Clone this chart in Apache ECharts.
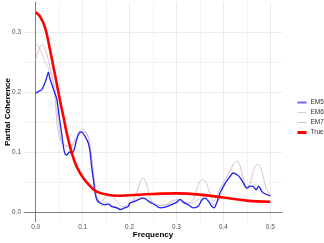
<!DOCTYPE html>
<html><head><meta charset="utf-8">
<script src="https://cdn.jsdelivr.net/npm/echarts@6/dist/echarts.min.js"></script>
<style>html,body{margin:0;padding:0;background:#fff}#c{width:324px;height:243px}</style>
</head><body><div id="c"></div>
<script>
const xTicks = [0, 0.1, 0.2, 0.3, 0.4, 0.5];
const xMinor = [0.05, 0.15, 0.25, 0.35, 0.45];
const yTicks = [0, 0.1, 0.2, 0.3];
const yMinor = [0.05, 0.15, 0.25];
const seriesNames = ['EM5', 'EM6', 'EM7', 'True'];

const em5Freq = [0,0.006,0.013,0.018,0.023,0.027,0.030,0.038,0.045,0.050,0.055,0.059,0.062,0.066,0.072,0.077,0.082,0.087,0.093,0.098,0.105,0.112,0.116,0.119,0.123,0.126,0.130,0.137,0.148,0.155,0.162,0.173,0.180,0.190,0.197,0.201,0.212,0.222,0.229,0.237,0.244,0.254,0.265,0.276,0.286,0.300,0.308,0.315,0.325,0.336,0.347,0.354,0.361,0.368,0.375,0.380,0.387,0.393,0.404,0.414,0.421,0.429,0.436,0.443,0.450,0.457,0.464,0.470,0.475,0.482,0.489,0.500];
const em5Val = [0.198,0.201,0.204,0.212,0.223,0.233,0.223,0.204,0.188,0.159,0.132,0.109,0.098,0.095,0.100,0.098,0.104,0.120,0.132,0.133,0.126,0.115,0.099,0.076,0.054,0.034,0.021,0.015,0.012,0.013,0.009,0.007,0.004,0.007,0.009,0.015,0.018,0.022,0.023,0.020,0.016,0.012,0.007,0.008,0.011,0.016,0.021,0.016,0.012,0.007,0.010,0.020,0.023,0.018,0.010,0.007,0.018,0.032,0.048,0.059,0.065,0.062,0.057,0.048,0.040,0.043,0.042,0.037,0.043,0.034,0.030,0.027];

const em6Freq = [0,0.01,0.02,0.03,0.04,0.045,0.05,0.055,0.06,0.07,0.08,0.09,0.1,0.105,0.112,0.119,0.125,0.13,0.14,0.15,0.16,0.17,0.18,0.19,0.2,0.21,0.22,0.23,0.24,0.25,0.26,0.27,0.28,0.29,0.3,0.31,0.32,0.33,0.34,0.35,0.36,0.37,0.38,0.39,0.4,0.41,0.42,0.43,0.44,0.45,0.46,0.47,0.48,0.49,0.5];
const em6Val = [0.282,0.270,0.250,0.235,0.210,0.175,0.140,0.118,0.112,0.108,0.110,0.128,0.138,0.136,0.125,0.090,0.050,0.025,0.015,0.016,0.012,0.008,0.006,0.010,0.015,0.020,0.025,0.024,0.020,0.015,0.012,0.010,0.013,0.018,0.020,0.018,0.015,0.014,0.018,0.022,0.026,0.020,0.012,0.020,0.040,0.055,0.065,0.062,0.050,0.038,0.043,0.045,0.040,0.032,0.027];

const em7Freq = [0,0.009,0.013,0.018,0.023,0.030,0.036,0.040,0.043,0.046,0.052,0.059,0.066,0.073,0.080,0.087,0.094,0.100,0.107,0.114,0.119,0.124,0.129,0.133,0.141,0.151,0.158,0.169,0.180,0.194,0.208,0.215,0.222,0.229,0.237,0.244,0.251,0.261,0.272,0.283,0.293,0.304,0.315,0.325,0.336,0.343,0.350,0.357,0.365,0.372,0.379,0.386,0.393,0.404,0.414,0.421,0.429,0.436,0.443,0.450,0.457,0.464,0.471,0.478,0.485,0.492,0.500];
const em7Val = [0.254,0.276,0.279,0.276,0.265,0.243,0.222,0.200,0.170,0.143,0.120,0.112,0.110,0.107,0.115,0.126,0.136,0.134,0.132,0.120,0.093,0.059,0.032,0.015,0.018,0.026,0.029,0.021,0.011,0.008,0.021,0.032,0.048,0.057,0.045,0.023,0.015,0.011,0.012,0.013,0.018,0.021,0.018,0.015,0.021,0.037,0.051,0.054,0.045,0.029,0.018,0.026,0.040,0.054,0.068,0.079,0.085,0.076,0.054,0.040,0.048,0.068,0.079,0.077,0.059,0.037,0.029];

const trueFreq = [0,0.009,0.02,0.03,0.041,0.052,0.059,0.066,0.077,0.087,0.101,0.116,0.130,0.151,0.173,0.200,0.250,0.300,0.350,0.400,0.450,0.500];
const trueVal = [0.333,0.326,0.307,0.272,0.229,0.185,0.159,0.132,0.098,0.076,0.057,0.043,0.034,0.029,0.027,0.028,0.030,0.031,0.029,0.024,0.019,0.017];

const zip = (a, b) => a.map((v, i) => [v, b[i]]);
const FONT = '"Liberation Sans", Arial, Helvetica, sans-serif';
const gridCol = '#ebebeb';
const minorCol = '#f3f3f3';
const legendLine = {
  EM5: {color: '#6b6bff', width: 2},
  EM6: {color: '#d3d3d3', width: 1},
  EM7: {color: '#d8bfd8', width: 1},
  True: {color: '#ff0000', width: 3}
};

const chart = echarts.init(document.getElementById('c'), null, {renderer: 'canvas'});
chart.setOption({
  animation: false,
  backgroundColor: '#ffffff',
  textStyle: {fontFamily: FONT},
  grid: {left: 24, right: 42, top: 2, bottom: 21, containLabel: false, outerBoundsMode: 'none'},
  legend: {
    data: seriesNames.map(n => ({name: n, lineStyle: legendLine[n]})),
    orient: 'vertical',
    left: 291, top: 94,
    itemWidth: 9, itemHeight: 7, itemGap: 3,
    itemStyle: {opacity: 0},
    textStyle: {fontSize: 6.5, color: '#333', fontFamily: FONT, padding: [0, 0, 0, -1]}
  },
  xAxis: [{
    type: 'value', min: -0.025, max: 0.525,
    name: 'Frequency', nameLocation: 'middle', nameGap: 9, nameMoveOverlap: false,
    nameTextStyle: {fontSize: 8, fontWeight: 'bold', color: '#000', fontFamily: FONT},
    axisLine: {show: true, onZero: true, lineStyle: {color: '#808080', width: 1}},
    axisTick: {show: false, customValues: xTicks},
    axisLabel: {customValues: xTicks, fontSize: 6.4, color: '#4d4d4d', margin: 2,
      formatter: v => v.toFixed(1)},
    splitLine: {show: true, lineStyle: {color: gridCol, width: 1}}
  }, {
    type: 'value', min: -0.025, max: 0.525, position: 'bottom',
    axisLine: {show: false}, axisLabel: {show: false},
    axisTick: {show: false, customValues: xMinor},
    splitLine: {show: true, lineStyle: {color: minorCol, width: 1}}
  }],
  yAxis: [{
    type: 'value', min: -0.0167, max: 0.35,
    name: 'Partial Coherence', nameLocation: 'middle', nameGap: 12, nameMoveOverlap: false,
    nameTextStyle: {fontSize: 8, fontWeight: 'bold', color: '#000', fontFamily: FONT},
    axisLine: {show: true, onZero: true, lineStyle: {color: '#808080', width: 1}},
    axisTick: {show: false, customValues: yTicks},
    axisLabel: {customValues: yTicks, fontSize: 6.4, color: '#4d4d4d', margin: 3,
      formatter: v => v.toFixed(1)},
    splitLine: {show: true, lineStyle: {color: gridCol, width: 1}}
  }, {
    type: 'value', min: -0.0167, max: 0.35, position: 'left',
    axisLine: {show: false}, axisLabel: {show: false},
    axisTick: {show: false, customValues: yMinor},
    splitLine: {show: true, lineStyle: {color: minorCol, width: 1}}
  }],
  series: [
    {name: 'EM6', type: 'line', data: zip(em6Freq, em6Val), symbol: 'none', smooth: 0.3, z: 2,
      lineStyle: {color: '#d3d3d3', width: 1}, itemStyle: {color: '#d3d3d3'}},
    {name: 'EM7', type: 'line', data: zip(em7Freq, em7Val), symbol: 'none', smooth: 0.3, z: 2,
      lineStyle: {color: '#d8bfd8', width: 1}, itemStyle: {color: '#d8bfd8'}},
    {name: 'EM5', type: 'line', data: zip(em5Freq, em5Val), symbol: 'none', smooth: 0.3, z: 3,
      lineStyle: {color: '#2222ee', width: 1.3}, itemStyle: {color: '#6666ff'}},
    {name: 'True', type: 'line', data: zip(trueFreq, trueVal), symbol: 'none', smooth: 0.4, z: 4,
      lineStyle: {color: '#ff0000', width: 2.6}, itemStyle: {color: '#ff0000'}}
  ]
});
</script></body></html>
